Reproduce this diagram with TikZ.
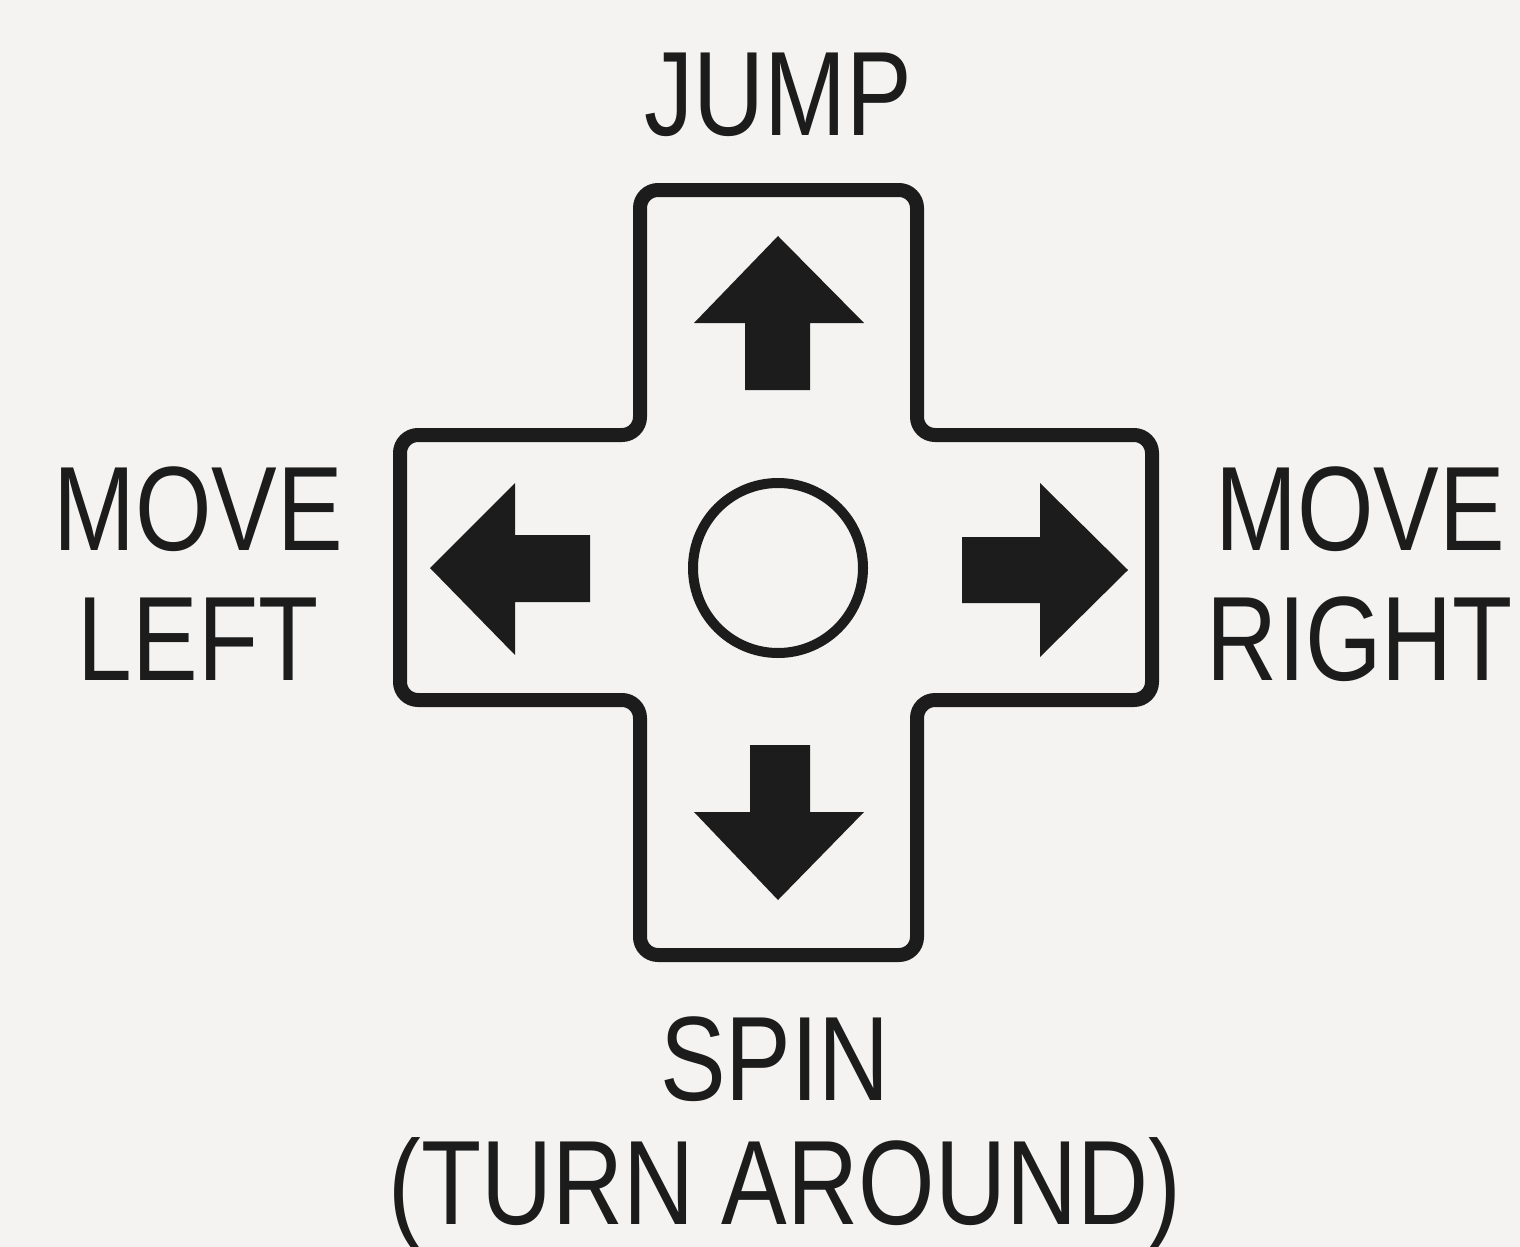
\documentclass[tikz,border=0pt]{standalone}
\usepackage{fontspec}
\newfontfamily\lblfont[FakeStretch=0.82]{Liberation Sans}
\definecolor{bg}{HTML}{F4F3F1}
\definecolor{ink}{HTML}{1C1C1C}
\begin{document}
\begin{tikzpicture}[x=0.5pt,y=-0.5pt,
  lbl/.style={font=\lblfont\fontsize{60}{60}\selectfont, text=ink, inner sep=0pt, anchor=base},
  padline/.style={draw=ink, line width=7pt, rounded corners=9pt, fill=bg, line join=round},
  arrowshape/.style={fill=ink, draw=none}]
\fill[bg] (0,0) rectangle (1520,1247);
\useasboundingbox (0,0) rectangle (1520,1247);
% D-pad outline
\draw[padline] (640,190) -- (917,190) -- (917,435) -- (1152,435) -- (1152,700) -- (917,700)
  -- (917,955) -- (640,955) -- (640,700) -- (400,700) -- (400,435) -- (640,435) -- cycle;
% centre button
\node[circle, draw=ink, line width=5pt, minimum size=85pt, inner sep=0pt] (btn) at (778,568) {};
% arrows
\fill[arrowshape] (778,236) -- (864,323) -- (810,323) -- (810,390) -- (745,390) -- (745,323) -- (694,323) -- cycle;
\fill[arrowshape] (778,900) -- (864,812) -- (810,812) -- (810,745) -- (750,745) -- (750,812) -- (694,812) -- cycle;
\fill[arrowshape] (430,568) -- (515,483) -- (515,535) -- (590,535) -- (590,602) -- (515,602) -- (515,655) -- cycle;
\fill[arrowshape] (1128,570) -- (1040,483) -- (1040,537) -- (962,537) -- (962,603) -- (1040,603) -- (1040,657) -- cycle;
% labels
\node[lbl] (jump) at (778,135) {JUMP};
\node[lbl] (mvl) at (198,550) {MOVE};
\node[lbl] (left) at (198,680) {LEFT};
\node[lbl] (mvr) at (1360,550) {MOVE};
\node[lbl] (right) at (1360,680) {RIGHT};
\node[lbl] (spin) at (775,1100) {SPIN};
\node[lbl] (turn) at (785,1224) {(TURN AROUND)};
\end{tikzpicture}
\end{document}
